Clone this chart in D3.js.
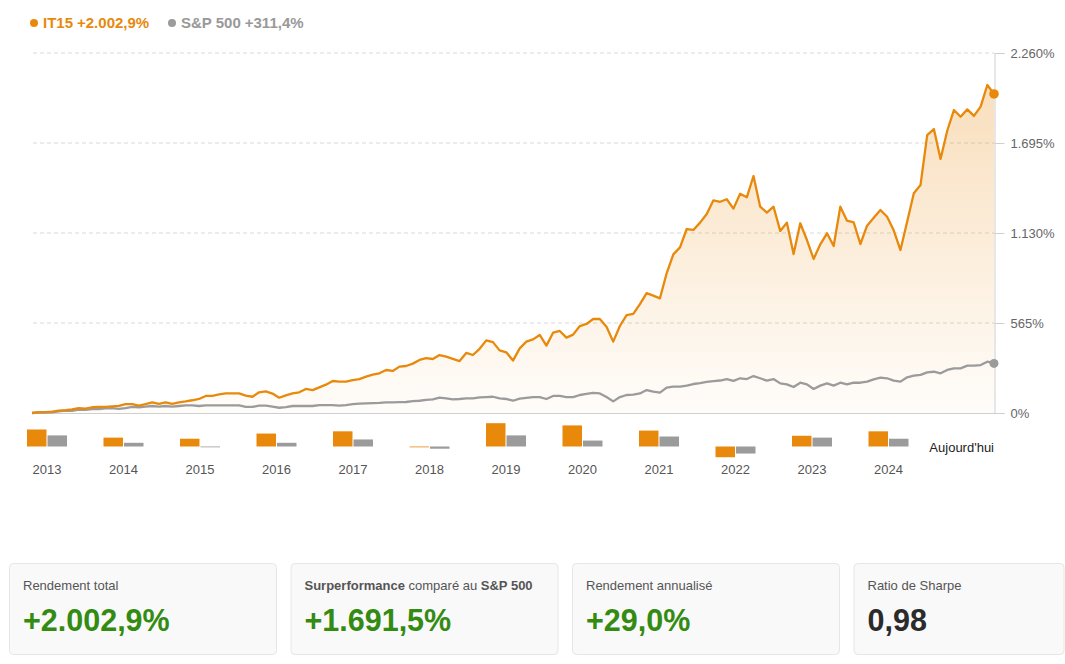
<!DOCTYPE html>
<html><head><meta charset="utf-8">
<script src="https://cdn.jsdelivr.net/npm/d3@7"></script>
<style>
body{margin:0;background:#fff;}
svg{display:block;font-family:"Liberation Sans",Arial,Helvetica,sans-serif;}
</style></head><body>
<svg id="c" width="1065" height="664"></svg>
<script>
// Cumulative performance (%), monthly points
const it15 = [0,6,6,8,15,18,22,30,28,36,38,38,42,45,56,56,46,56,67,58,66,57,67,73,80,88,107,107,117,123,123,123,109,102,130,136,122,96,111,123,130,151,144,161,178,201,197,197,207,213,228,241,249,270,264,291,295,310,333,345,339,364,354,340,326,377,364,403,456,445,393,381,329,406,448,462,490,423,504,515,473,492,546,559,590,590,542,448,546,615,622,684,753,737,720,877,996,1040,1155,1149,1195,1249,1335,1326,1342,1283,1376,1354,1488,1295,1258,1295,1143,1195,998,1191,1086,967,1059,1128,1048,1295,1207,1197,1061,1176,1226,1274,1232,1145,1023,1201,1379,1431,1745,1783,1595,1772,1902,1860,1906,1865,1923,2059,2002.9];
const sp500 = [0,2,3,4,10,15,14,22,19,25,25,29,31,26,31,38,36,40,44,40,44,40,44,48,48,44,48,48,48,48,48,48,38,38,46,46,40,33,37,44,44,44,44,50,50,50,46,50,56,59,61,62,63,67,67,68,69,75,77,82,86,96,92,86,88,92,92,98,100,102,92,88,77,90,95,100,100,88,107,107,100,100,113,120,126,123,100,73,100,113,115,123,144,134,128,159,165,165,172,182,188,195,200,204,213,202,218,213,232,218,203,213,186,180,163,190,180,151,172,186,172,190,180,190,190,197,211,222,218,203,197,224,234,239,255,259,249,270,280,280,297,297,301,322,311.4];

// Yearly returns (%)
const years = ["2013","2014","2015","2016","2017","2018","2019","2020","2021","2022","2023","2024"];
const todayLabel = "Aujourd'hui";
const it15Yearly = [46,24,21,35,41,-2,63,57,43,-29,29,41];
const spYearly = [30,10,-1,10,19,-6,30,16,27,-19,24,21];

const yTicks = [0,565,1130,1695,2260];
const seriesNames = ["IT15","S&P 500"];
const seriesTotals = ["+2.002,9%","+311,4%"];
const statLabels = ["Rendement total","Surperformance compar\u00e9 au S&P 500","Rendement annualis\u00e9","Ratio de Sharpe"];
const statValues = ["+2.002,9%","+1.691,5%","+29,0%","0,98"];

const ORANGE = "#E8890C", GRAY = "#9b9b9b", GREEN = "#348b12";

const svg = d3.select("#c");
const locale = d3.formatLocale({decimal:",",thousands:".",grouping:[3],currency:["","%"]});
const fmt = locale.format(",d");

const x = d3.scaleLinear().domain([0, it15.length-1]).range([32, 994]);
const y = d3.scaleLinear().domain([0, 2260]).range([413, 53]);

// gradient
const defs = svg.append("defs");
const grad = defs.append("linearGradient").attr("id","g").attr("gradientUnits","userSpaceOnUse")
  .attr("x1",0).attr("y1",y(2260)).attr("x2",0).attr("y2",y(0));
grad.append("stop").attr("offset","0").attr("stop-color",ORANGE).attr("stop-opacity",0.3);
grad.append("stop").attr("offset","1").attr("stop-color",ORANGE).attr("stop-opacity",0.02);

// gridlines
svg.append("g").selectAll("line").data(yTicks.filter(d=>d>0)).join("line")
  .attr("x1",33).attr("x2",994).attr("y1",d=>y(d)).attr("y2",d=>y(d))
  .attr("stroke","#d9d9d9").attr("stroke-dasharray","4,3");

// area
svg.append("path").datum(it15)
  .attr("d", d3.area().x((d,i)=>x(i)).y0(y(0)).y1(d=>y(d)))
  .attr("fill","url(#g)");

// baseline
svg.append("line").attr("x1",32).attr("x2",1004).attr("y1",y(0)+0.5).attr("y2",y(0)+0.5).attr("stroke","#cfcfcf");

// right axis
const axis = svg.append("g").attr("transform","translate(994.5,0)")
  .call(d3.axisRight(y).tickValues(yTicks).tickSize(10).tickPadding(6).tickFormat(d=>fmt(d)+"%"));
axis.select(".domain").attr("stroke","#cfcfcf");
axis.selectAll(".tick line").attr("stroke","#cfcfcf");
axis.selectAll(".tick text").attr("fill","#666").attr("font-size",13).attr("font-family","Liberation Sans, Arial, sans-serif");

// lines
const line = d3.line().x((d,i)=>x(i)).y(d=>y(d));
svg.append("path").datum(sp500).attr("d",line).attr("fill","none").attr("stroke",GRAY).attr("stroke-width",2.3).attr("stroke-linejoin","round");
svg.append("path").datum(it15).attr("d",line).attr("fill","none").attr("stroke",ORANGE).attr("stroke-width",2.3).attr("stroke-linejoin","round");
svg.append("circle").attr("cx",x(sp500.length-1)).attr("cy",y(sp500[sp500.length-1])).attr("r",4.5).attr("fill",GRAY);
svg.append("circle").attr("cx",x(it15.length-1)).attr("cy",y(it15[it15.length-1])).attr("r",4.8).attr("fill",ORANGE);

// legend
const legX = [30, 168];
const legColors = [ORANGE, "#999"];
const dotColors = [ORANGE, GRAY];
seriesNames.forEach((n,i)=>{
  svg.append("circle").attr("cx",legX[i]+4).attr("cy",23).attr("r",4).attr("fill",dotColors[i]);
  const t = svg.append("text").attr("x",legX[i]+13).attr("y",28).attr("font-size",15).attr("font-weight","bold").attr("fill",legColors[i]);
  t.append("tspan").text(n);
  t.append("tspan").attr("dx",4).text(seriesTotals[i]);
});

// yearly bars
const cats = [...years, todayLabel];
const band = d3.scaleBand().domain(cats).range([8.75, 1003.25]);
const sub = d3.scaleBand().domain(["it","sp"]).range([-20,20]).paddingInner(0.05);
const yb = d3.scaleLinear().domain([0,100]).range([446.5, 409.5]);
const bars = svg.append("g");
years.forEach((yr,i)=>{
  const c = band(yr) + band.bandwidth()/2;
  [[it15Yearly[i],"it",ORANGE],[spYearly[i],"sp",GRAY]].forEach(([v,k,col])=>{
    bars.append("rect").attr("x",c+sub(k)).attr("width",sub.bandwidth())
      .attr("y",Math.min(yb(v),yb(0))).attr("height",Math.max(Math.abs(yb(v)-yb(0)),0.8))
      .attr("fill",col);
  });
  svg.append("text").attr("x",c).attr("y",474).attr("text-anchor","middle")
    .attr("font-size",13).attr("fill","#555").text(yr);
});
svg.append("text").attr("x",994).attr("y",452).attr("text-anchor","end")
  .attr("font-size",13).attr("fill","#222").text(todayLabel);

// stat cards
const cardX = [9.5, 291, 572.5, 854];
const cardW = [267, 267, 267, 210];
statLabels.forEach((lab,i)=>{
  const g = svg.append("g").attr("transform",`translate(${cardX[i]},563.5)`);
  g.append("rect").attr("width",cardW[i]).attr("height",91).attr("rx",4)
    .attr("fill","#f9f9f9").attr("stroke","#e6e6e6");
  const t = g.append("text").attr("x",13.5).attr("y",26.5).attr("font-size",13).attr("fill","#555");
  if (i===1) {
    const parts = lab.split(" ");
    t.append("tspan").attr("font-weight","bold").text(parts[0]);
    t.append("tspan").text(" " + parts.slice(1,3).join(" ") + " ");
    t.append("tspan").attr("font-weight","bold").text(parts.slice(3).join(" "));
  } else t.text(lab);
  g.append("text").attr("x",13.5).attr("y",67.5).attr("font-size",30.5).attr("font-weight","bold")
    .attr("fill", statValues[i].startsWith("+") ? GREEN : "#2b2b2b").text(statValues[i]);
});
</script>
</body></html>
